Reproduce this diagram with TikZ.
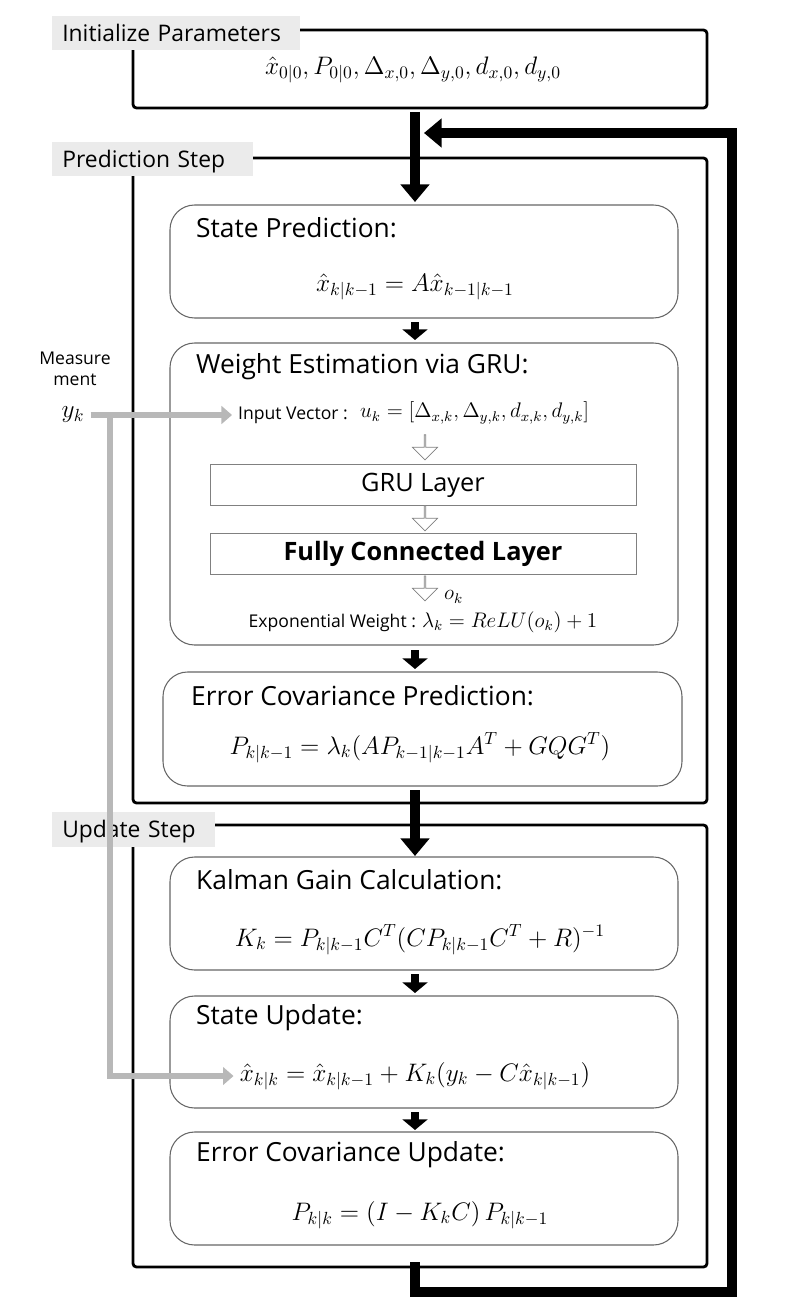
\documentclass[tikz,border=0pt]{standalone}
\usepackage{fontspec}
\setmainfont{Open Sans}
\usetikzlibrary{arrows.meta,shapes.arrows}
\begin{document}
\begin{tikzpicture}[x=0.02cm,y=-0.02cm]
\tikzset{
  frame/.style={draw,line width=1.6pt,rounded corners=2pt},
  tab/.style={fill=black!8,anchor=west,minimum height=0.7cm,text width=#1,align=left,inner xsep=0.2cm,font=\fontsize{13}{15}\selectfont,text depth=0pt},
  box/.style={draw=black!60,rounded corners=14pt,line width=0.6pt},
  layer/.style={draw=black!50,fill=white,minimum width=8.52cm,minimum height=0.82cm,font=\Large},
  ttl/.style={anchor=west,font=\fontsize{15}{18}\selectfont},
  eq/.style={font=\Large},
  big/.style={line width=5.5pt,-{Triangle[length=10pt,width=16pt]}},
  small/.style={line width=5pt,-{Triangle[length=6pt,width=14pt]}},
  meas/.style={draw=black!28,line width=3.5pt},
  hollow/.style={single arrow,draw=black!50,fill=white,shape border rotate=270,minimum height=0.5cm,minimum width=0.5cm,single arrow head extend=0.12cm,inner sep=0pt}
}
\useasboundingbox (0,0) rectangle (800,1311);
% frames
\draw [frame] (133,30) rectangle (707,108);
\node [tab=4.56cm] (tinit) at (52,33) {Initialize Parameters};
\node [eq] (init) at (413,70) {$\hat{x}_{0|0}, P_{0|0}, \Delta_{x,0}, \Delta_{y,0}, d_{x,0}, d_{y,0}$};
\draw [frame] (133,158) rectangle (707,803);
\node [tab=3.62cm] (tpred) at (52,159) {Prediction Step};
\draw [frame] (133,825) rectangle (707,1267);
\node [tab=2.86cm] (tupd) at (52,829) {Update Step};
% prediction boxes
\draw [box] (170,205) rectangle (678,318);
\node [ttl] at (190,228) {State Prediction:};
\node [eq] (sp) at (415,287) {$\hat{x}_{k|k-1} = A\hat{x}_{k-1|k-1}$};
\draw [box] (170,343) rectangle (678,645);
\node [ttl] at (190,367) {Weight Estimation via GRU:};
\node [anchor=east] (inlab) at (354,415) {Input Vector :};
\node [anchor=west,font=\large] (inv) at (354,413) {$u_k = [\Delta_{x,k}, \Delta_{y,k}, d_{x,k}, d_{y,k}]$};
\node [layer] (gru) at (423,485) {GRU Layer};
\node [layer] (fc) at (423,554) {\textbf{Fully Connected Layer}};
\node [hollow] (h1) at (425,447) {};
\node [hollow] (h2) at (425,518) {};
\node [hollow] (h3) at (425,588) {};
\node [anchor=west,font=\large] (ok) at (438,597) {$o_k$};
\node (ew) at (423,622) {Exponential Weight : \large$\lambda_k = ReLU(o_k)+1$};
\draw [box] (163,672) rectangle (682,786);
\node [ttl] at (185,696) {Error Covariance Prediction:};
\node [eq] (ecp) at (420,748) {$P_{k|k-1} = \lambda_k(AP_{k-1|k-1}A^T + GQG^T)$};
% update boxes
\draw [box] (170,857) rectangle (678,970);
\node [ttl] at (190,880) {Kalman Gain Calculation:};
\node [eq] (kg) at (420,940) {$K_k = P_{k|k-1}C^T(CP_{k|k-1}C^T + R)^{-1}$};
\draw [box] (170,996) rectangle (678,1108);
\node [ttl] at (190,1018) {State Update:};
\node [eq] (su) at (415,1076) {$\hat{x}_{k|k} = \hat{x}_{k|k-1} + K_k(y_k - C\hat{x}_{k|k-1})$};
\draw [box] (170,1132) rectangle (678,1245);
\node [ttl] at (190,1155) {Error Covariance Update:};
\node [eq] (ecu) at (420,1215) {$P_{k|k} = (I - K_kC)\,P_{k|k-1}$};
% flow arrows
\coordinate (a0) at (415,112);
\coordinate (a1) at (415,202);
\draw [big] (a0) -- (a1);
\foreach \ya/\yb in {322/340,650/669,974/993,1112/1130}
  \draw [small] (415,\ya) -- (415,\yb);
\draw [big] (415,790) -- (415,856);
% feedback loop
\coordinate (f0) at (415,1262);
\coordinate (f1) at (415,1292);
\coordinate (f2) at (732,1292);
\coordinate (f3) at (732,133);
\coordinate (f4) at (424,133);
\draw [line width=5.5pt,-{Triangle[length=10pt,width=16pt]}] (f0) -- (f1) -- (f2) -- (f3) -- (f4);
% measurement
\node [align=center] (mlab) at (75,369) {Measure\\ment};
\node [font=\Large] (yk) at (73,415) {$y_k$};
\coordinate (m0) at (110,415);
\coordinate (m1) at (110,1076);
\draw [meas,-{Triangle[length=6pt,width=10pt]}] (yk.east) -- (inlab.west);
\draw [meas,-{Triangle[length=6pt,width=10pt]}] (m0) -- (m1) -- (su.west);
\end{tikzpicture}
\end{document}
